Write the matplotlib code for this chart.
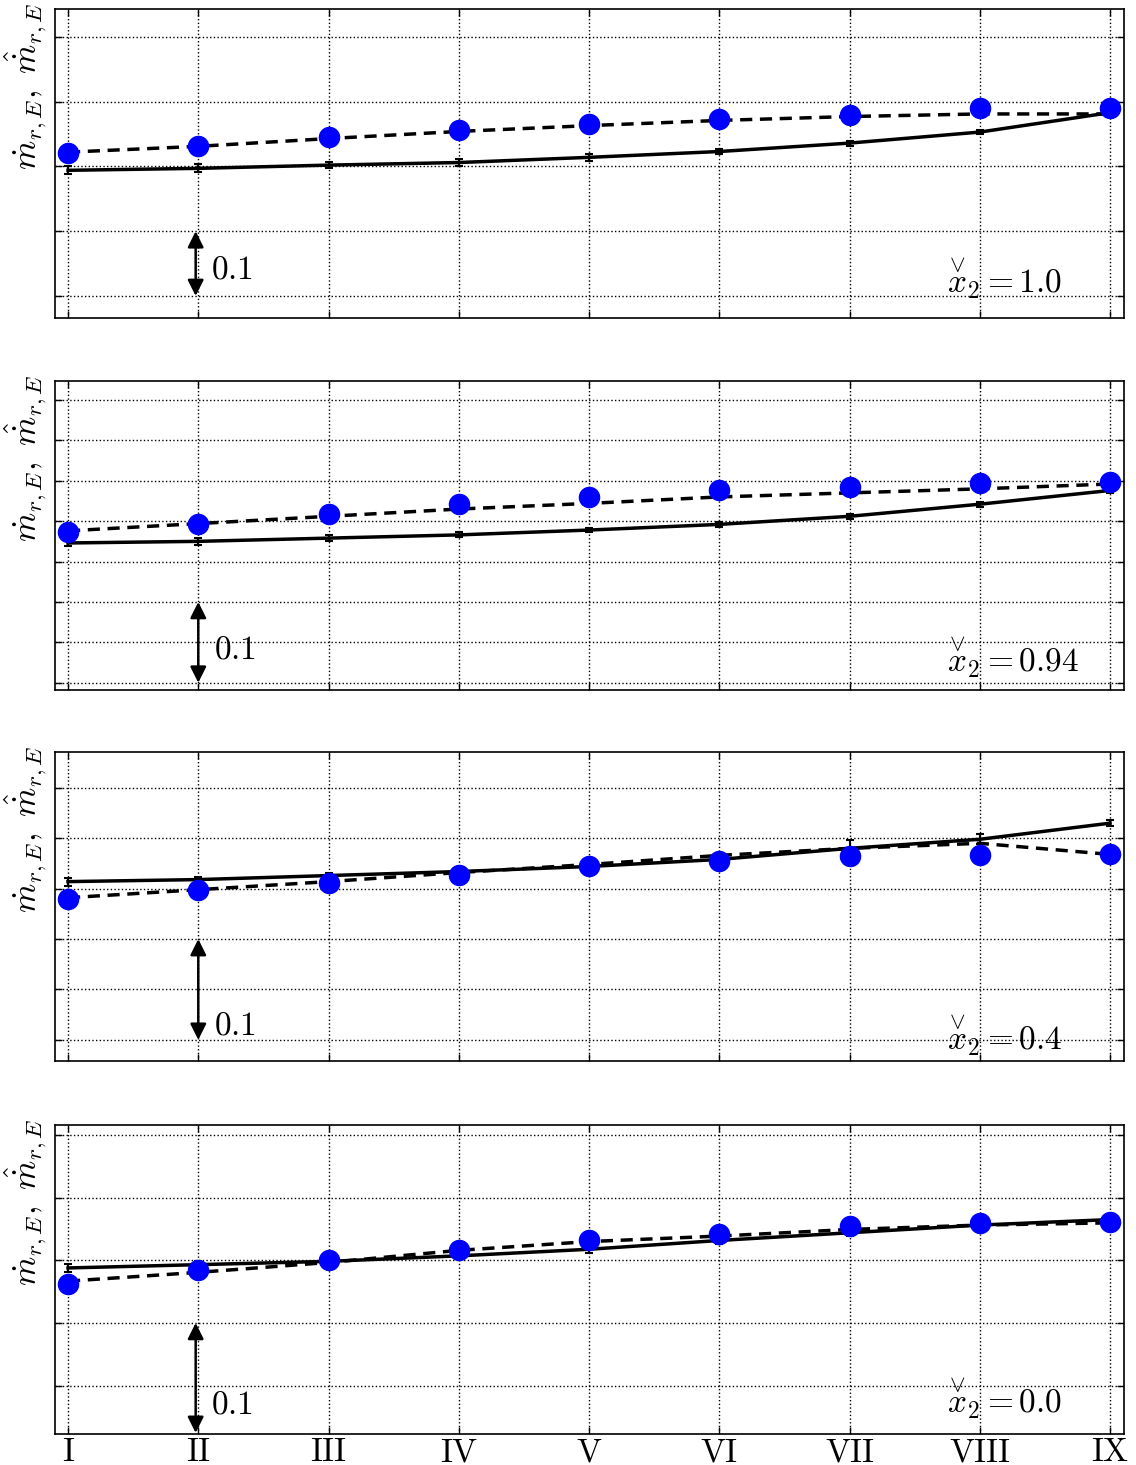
import numpy as np
import matplotlib
matplotlib.use('Agg')
import matplotlib.pyplot as plt

plt.rcParams['font.family'] = 'serif'
plt.rcParams['font.serif'] = ['cmr10']
plt.rcParams['mathtext.fontset'] = 'cm'
plt.rcParams['axes.unicode_minus'] = False

cases = ['I', 'II', 'III', 'IV', 'V', 'VI', 'VII', 'VIII', 'IX']
x = np.arange(1, 10)

x2_labels = ['1.0', '0.94', '0.4', '0.0']

# measured points (blue dots)
meas_1 = [0.520, 0.531, 0.545, 0.556, 0.565, 0.573, 0.580, 0.590, 0.590]
meas_2 = [0.486, 0.497, 0.509, 0.521, 0.530, 0.538, 0.542, 0.547, 0.549]
meas_3 = [0.440, 0.449, 0.456, 0.464, 0.472, 0.477, 0.482, 0.483, 0.484]
meas_4 = [0.4355, 0.448, 0.457, 0.466, 0.475, 0.481, 0.488, 0.491, 0.492]

# model (dashed)
model_1 = [0.522, 0.531, 0.543, 0.554, 0.563, 0.571, 0.577, 0.581, 0.581]
model_2 = [0.488, 0.497, 0.506, 0.515, 0.522, 0.530, 0.535, 0.540, 0.546]
model_3 = [0.441, 0.449, 0.457, 0.466, 0.474, 0.483, 0.490, 0.495, 0.484]
model_4 = [0.438, 0.446, 0.455, 0.466, 0.474, 0.479, 0.485, 0.489, 0.491]

# simulation (solid, with error bars)
sim_1 = [0.494, 0.497, 0.502, 0.506, 0.514, 0.523, 0.536, 0.553, 0.583]
sim_2 = [0.473, 0.475, 0.479, 0.483, 0.489, 0.496, 0.506, 0.521, 0.538]
sim_3 = [0.457, 0.459, 0.463, 0.467, 0.472, 0.479, 0.490, 0.499, 0.515]
sim_4 = [0.450, 0.453, 0.456, 0.461, 0.467, 0.475, 0.482, 0.489, 0.494]

err_1 = [0.006, 0.006, 0.005, 0.005, 0.005, 0.004, 0.004, 0.003, 0.003]
err_2 = [0.004, 0.004, 0.004, 0.003, 0.003, 0.003, 0.003, 0.003, 0.003]
err_3 = [0.004, 0.003, 0.003, 0.004, 0.005, 0.006, 0.008, 0.005, 0.003]
err_4 = [0.004, 0.003, 0.003, 0.003, 0.003, 0.003, 0.003, 0.003, 0.003]

meas = [meas_1, meas_2, meas_3, meas_4]
model = [model_1, model_2, model_3, model_4]
sim = [sim_1, sim_2, sim_3, sim_4]
err = [err_1, err_2, err_3, err_4]

# per-panel y range and grid ticks
ylims = [(0.266, 0.743), (0.291, 0.6735), (0.279, 0.5856), (0.299, 0.580)]
yticks = [
    [0.3, 0.4, 0.5, 0.6, 0.7],
    [0.3, 0.35, 0.4, 0.45, 0.5, 0.55, 0.6, 0.65],
    [0.3, 0.35, 0.4, 0.45, 0.5, 0.55],
    [0.343, 0.4, 0.457, 0.514, 0.571],
]
arrow_x = [1.98, 2.0, 2.0, 1.98]
scale_text_y = [0.34, 0.341, 0.314, 0.325]
label_y = [0.13, 0.107, 0.084, 0.117]

W, H = 1136, 1465
fig = plt.figure(figsize=(W / 100, H / 100), dpi=100)
tops = [9, 381, 752, 1125]
ax_h = 309
left, right = 55, 1124

for i in range(4):
    b = 1 - (tops[i] + ax_h) / H
    ax = fig.add_axes([left / W, b, (right - left) / W, ax_h / H])

    ax.errorbar(x, sim[i], yerr=err[i], color='k', lw=2.5, capsize=3,
                elinewidth=1.5, capthick=1.5, zorder=3)
    ax.plot(x, model[i], color='k', lw=2.5, ls='--', dashes=(3.5, 2.2), zorder=4)
    ax.plot(x, meas[i], 'o', color='#0000ff', ms=14.5, mec='#0000ff', zorder=5)

    ax.set_xlim(0.9, 9.107)
    ax.set_ylim(*ylims[i])
    ax.set_xticks(x)
    ax.set_yticks(yticks[i])
    ax.set_yticklabels([])
    if i == 3:
        ax.set_xticklabels(cases, fontsize=24)
    else:
        ax.set_xticklabels([])
    ax.tick_params(direction='in', top=True, right=True, length=5, width=1, pad=3)
    ax.grid(True, color='k', ls=':', lw=1)
    for s in ax.spines.values():
        s.set_linewidth(1.2)

    ax.set_ylabel(r'$\dot{m}_{r,E},\ \hat{\dot{m}}_{r,E}$', fontsize=24)
    ax.yaxis.set_label_coords(-0.006, 0.75)

    # 0.1 scale arrow
    ax.annotate('', xy=(arrow_x[i], 0.3), xytext=(arrow_x[i], 0.4),
                arrowprops=dict(arrowstyle='<|-|>', color='k', lw=1.8,
                                mutation_scale=24, shrinkA=0, shrinkB=0),
                annotation_clip=False, zorder=6)
    ax.text(arrow_x[i] + 0.12, scale_text_y[i], '$0.1$', fontsize=24,
            ha='left', va='center')

    ax.text(0.834, label_y[i], r'$\overset{\vee}{x}_2 = %s$' % x2_labels[i],
            transform=ax.transAxes, fontsize=24, ha='left', va='center')

fig.savefig('out.png', dpi=100)
